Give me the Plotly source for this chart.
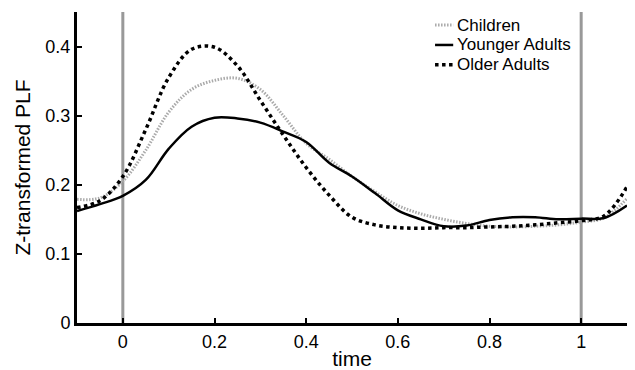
import plotly.graph_objects as go

time = [-0.1, -0.05, 0.0, 0.05, 0.1, 0.15, 0.2, 0.25, 0.3, 0.35, 0.4, 0.45, 0.5,
        0.55, 0.6, 0.65, 0.7, 0.75, 0.8, 0.85, 0.9, 0.95, 1.0, 1.05, 1.1]
children = [0.179, 0.181, 0.205, 0.250, 0.305, 0.338, 0.351, 0.354, 0.338, 0.300, 0.260,
            0.237, 0.212, 0.190, 0.170, 0.158, 0.150, 0.144, 0.140, 0.139, 0.140, 0.142,
            0.146, 0.152, 0.180]
younger = [0.162, 0.172, 0.184, 0.207, 0.252, 0.284, 0.297, 0.296, 0.290, 0.277, 0.262,
           0.232, 0.212, 0.188, 0.163, 0.150, 0.140, 0.141, 0.149, 0.153, 0.153, 0.150,
           0.151, 0.152, 0.170]
older = [0.167, 0.177, 0.212, 0.280, 0.355, 0.396, 0.399, 0.372, 0.322, 0.272, 0.225,
         0.185, 0.153, 0.142, 0.138, 0.137, 0.138, 0.138, 0.139, 0.140, 0.142, 0.145,
         0.148, 0.155, 0.197]
series_names = ["Children", "Younger Adults", "Older Adults"]
event_times = [0, 1]
x_ticks = [0, 0.2, 0.4, 0.6, 0.8, 1]
x_tick_labels = ["0", "0.2", "0.4", "0.6", "0.8", "1"]
y_ticks = [0, 0.1, 0.2, 0.3, 0.4]
y_tick_labels = ["0", "0.1", "0.2", "0.3", "0.4"]

styles = [
    dict(color="#aaaaaa", width=3, dash="1.5px,1.5px"),
    dict(color="black", width=2.5, dash="solid"),
    dict(color="black", width=3.5, dash="dot"),
]

fig = go.Figure()
for t in event_times:
    fig.add_shape(type="line", x0=t, x1=t, y0=0, y1=0.45, xref="x", yref="y",
                  line=dict(color="#999999", width=3), layer="below")

for name, vals, st in zip(series_names, [children, younger, older], styles):
    fig.add_trace(go.Scatter(x=time, y=vals, name=name, mode="lines", showlegend=False,
                             line=dict(shape="spline", **st)))

# manual legend (compact spacing like the original)
leg_x0, leg_x1, leg_tx = 0.651, 0.684, 0.687
leg_ys = [0.958, 0.894, 0.830]
for name, st, ly in zip(series_names, styles, leg_ys):
    fig.add_shape(type="line", xref="paper", yref="paper", x0=leg_x0, x1=leg_x1,
                  y0=ly, y1=ly, line=dict(color=st["color"], width=st["width"], dash=st["dash"]))
    fig.add_annotation(xref="paper", yref="paper", x=leg_tx, y=ly, text=name,
                       showarrow=False, xanchor="left", yanchor="middle",
                       font=dict(size=17, color="black"))

fig.update_layout(
    width=635, height=370,
    margin=dict(l=77, r=8, t=12, b=47),
    paper_bgcolor="white", plot_bgcolor="white",
    font=dict(family="Liberation Sans, Arial, sans-serif", color="black", size=18),
    showlegend=False,
)
fig.update_xaxes(range=[-0.1, 1.1], tickvals=x_ticks, ticktext=x_tick_labels,
                 showline=True, linecolor="black", linewidth=3, ticks="inside",
                 ticklen=5, tickwidth=2, tickcolor="black", showgrid=False, zeroline=False,
                 automargin=False,
                 title=dict(text="time", font=dict(size=21), standoff=7),
                 tickfont=dict(size=18))
fig.update_yaxes(range=[0, 0.45], tickvals=y_ticks, ticktext=y_tick_labels,
                 showline=True, linecolor="black", linewidth=3, ticks="inside",
                 ticklen=5, tickwidth=2, tickcolor="black", showgrid=False, zeroline=False,
                 automargin=False,
                 title=dict(text="Z-transformed PLF", font=dict(size=21), standoff=10),
                 tickfont=dict(size=18))

fig.write_html("out.html", config={"displayModeBar": False},
               post_script="document.body.style.margin='0';document.body.style.overflow='hidden';")
